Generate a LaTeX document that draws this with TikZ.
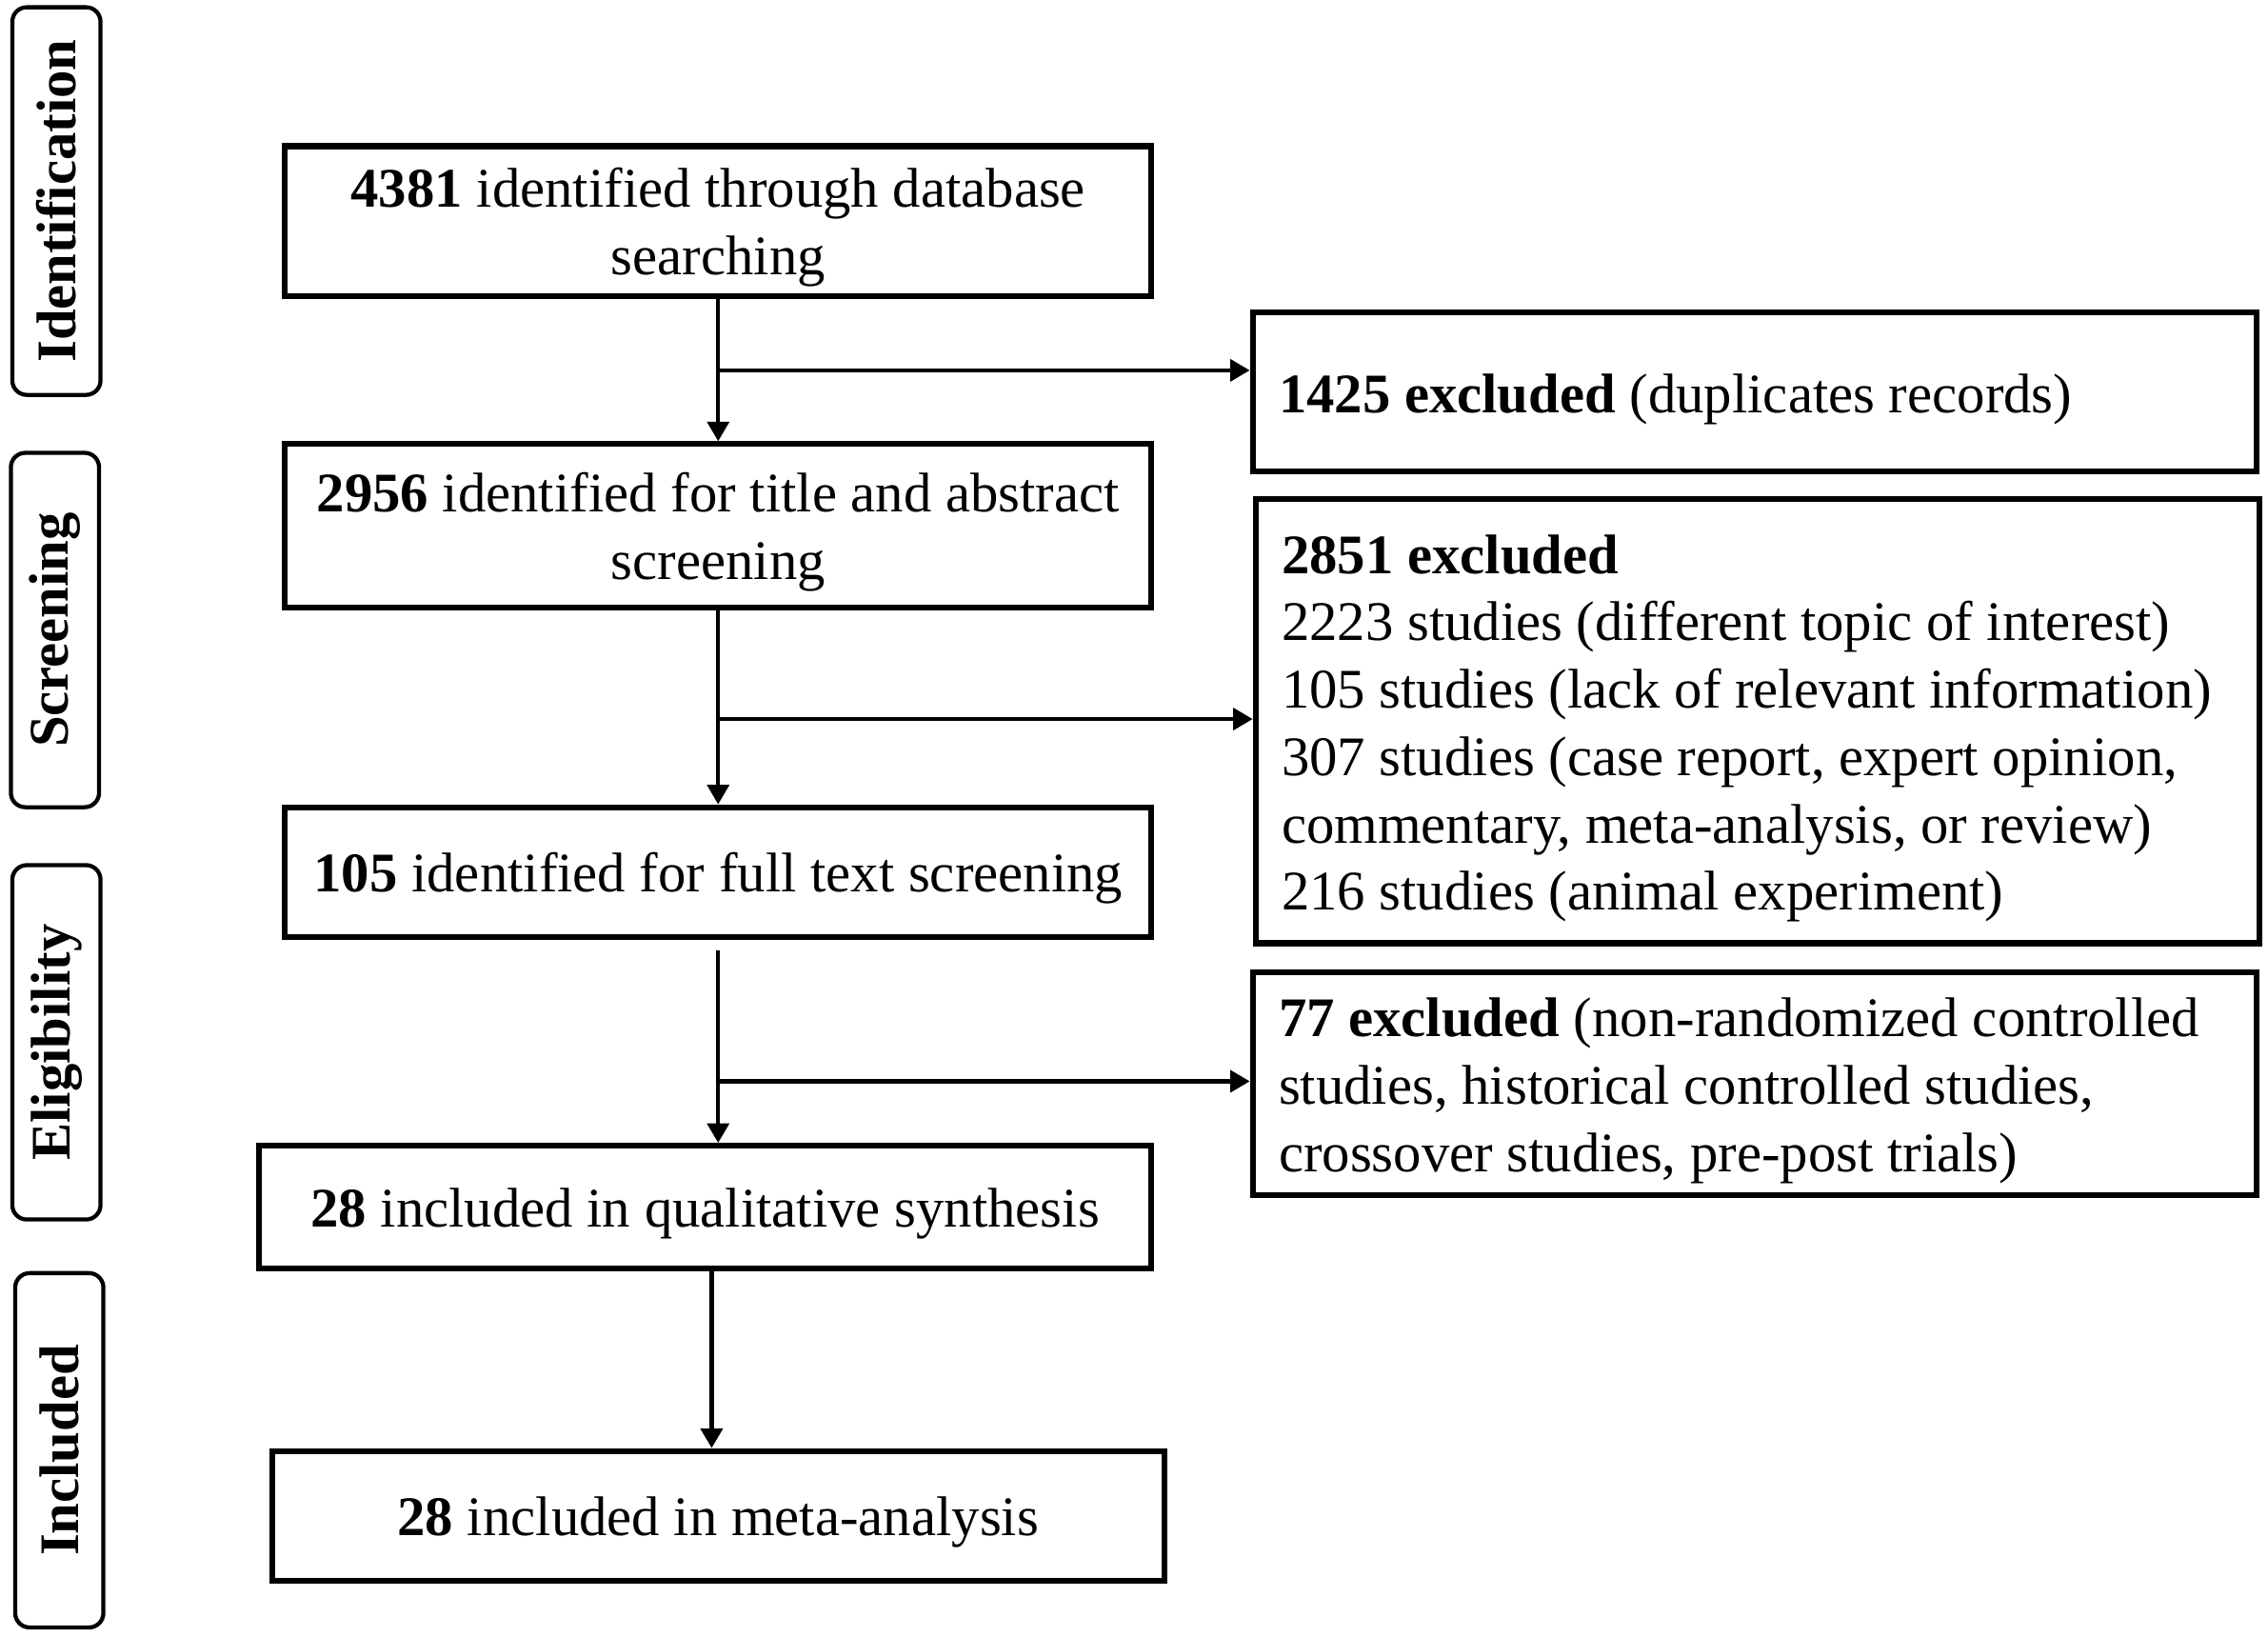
\documentclass[tikz,border=0pt]{standalone}
\usepackage{fontspec}
\setmainfont{Liberation Serif}
\usetikzlibrary{arrows.meta,positioning}

\begin{document}
\begin{tikzpicture}[x=0.02cm,y=-0.02cm,line width=1.6pt,>={Triangle[length=0.27cm,width=0.3cm]}]
    \tikzstyle{every node}=[font=\fontsize{22}{26.5}\selectfont]
    \tikzstyle{stage}=[draw,rounded corners=0.2cm,line width=1.6pt,rotate=90,minimum height=1.22cm,inner sep=0pt,font=\fontsize{22}{26.5}\selectfont\bfseries]
    \tikzstyle{step box}=[draw,line width=2.3pt,align=center,inner sep=0pt,text depth=0pt]
    \tikzstyle{excl box}=[draw,line width=2.3pt,align=flush left,text width=13.16cm,inner xsep=0.36cm,inner ysep=0pt,minimum width=13.88cm,text height=21pt]

    \useasboundingbox[fill=white] (0,0) rectangle (1568,1131);

    % Draw the phase labels on the left
    \foreach \name / \x / \y / \len in {Identification/39/139/5.36cm, Screening/38/435.5/4.9cm,
                                        Eligibility/39/720.5/4.9cm, Included/41/1002.5/4.9cm}
        \node[stage, minimum width=\len] (P-\name) at (\x,\y) {\name};

    % Draw the main column
    \node[step box, minimum width=11.98cm, minimum height=2.08cm] (ID) at (496.5,153)
        {\textbf{4381} identified through database\\ searching};
    \node[step box, minimum width=11.98cm, minimum height=2.26cm] (SC) at (496.5,363.5)
        {\textbf{2956} identified for title and abstract\\ screening};
    \node[step box, minimum width=11.98cm, minimum height=1.8cm] (FT) at (496.5,603)
        {\textbf{105} identified for full text screening};
    \node[step box, minimum width=12.34cm, minimum height=1.7cm] (QS) at (487.5,834.5)
        {\textbf{28} included in qualitative synthesis};
    \node[step box, minimum width=12.34cm, minimum height=1.8cm] (MA) at (496.5,1048)
        {\textbf{28} included in meta-analysis};

    % Draw the excluded records on the right
    \node[excl box, minimum height=2.2cm] (EX-1) at (1213,271)
        {\textbf{1425 excluded} (duplicates records)};
    \node[excl box, minimum height=6.14cm] (EX-2) at (1215,498.5)
        {\textbf{2851 excluded}\\
         2223 studies (different topic of interest)\\
         105 studies (lack of relevant information)\\
         307 studies (case report, expert opinion,\\
         commentary, meta-analysis, or review)\\
         216 studies (animal experiment)};
    \node[excl box, minimum height=3.08cm] (EX-3) at (1213,749)
        {\textbf{77 excluded} (non-randomized controlled\\
         studies, historical controlled studies,\\
         crossover studies, pre-post trials)};

    % Connect the boxes of the main column
    \draw[->] (ID.south) -- (SC.north) coordinate[pos=0.5] (J-1);
    \draw[->] (SC.south) -- (FT.north) coordinate[pos=0.56] (J-2);
    \draw[->] ([yshift=-0.14cm]FT.south) -- (FT.south |- QS.north) coordinate[pos=0.68] (J-3);
    \draw[->] ([xshift=0.09cm]QS.south) -- ([xshift=0.09cm]QS.south |- MA.north);

    % Connect the main column with the excluded records
    \draw[->] (J-1) -- (J-1 -| EX-1.west);
    \draw[->] (J-2) -- (J-2 -| EX-2.west);
    \draw[->] (J-3) -- (J-3 -| EX-3.west);
\end{tikzpicture}
\end{document}
